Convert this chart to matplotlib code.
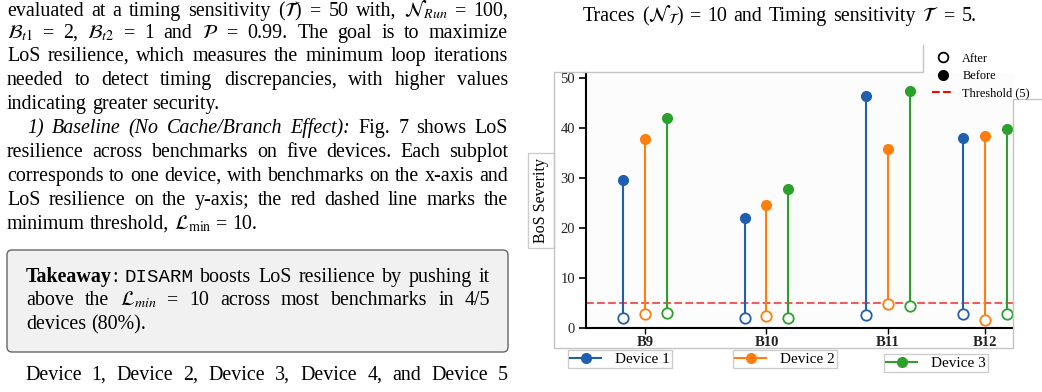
import matplotlib
matplotlib.use("Agg")
import matplotlib.pyplot as plt
from matplotlib.lines import Line2D
from matplotlib.patches import FancyBboxPatch

plt.rcParams['font.family'] = ['Liberation Serif', 'DejaVu Serif']
plt.rcParams['mathtext.fontset'] = 'stix'

# ---- chart data ----
benchmarks = ["B9", "B10", "B11", "B12"]
device_names = ["Device 1", "Device 2", "Device 3"]
device_colors = ["#1f5fae", "#ff7f0e", "#2ca02c"]

d1_before = [29.7, 22.1, 46.5, 38.1]
d1_after = [2.0, 2.0, 2.7, 2.8]
d2_before = [37.8, 24.7, 35.8, 38.5]
d2_after = [2.9, 2.5, 4.9, 1.7]
d3_before = [42.0, 27.9, 47.5, 39.9]
d3_after = [3.0, 2.1, 4.5, 2.9]
threshold = 5

# layout of the categories on the x axis (B12 sits closer in the original)
bench_x = [0, 1, 2, 2.8]
offsets = [-0.18, 0, 0.18]

W, H = 1042, 392
fig = plt.figure(figsize=(W / 100, H / 100), dpi=100)
renderer = fig.canvas.get_renderer()


def fx(x):
    return x / W


def fy(y):
    return 1 - y / H


# ---- page text ----
BASE = dict(fontsize=14.4, color='black')
IT = dict(style='italic')
BF = dict(weight='bold')
TT = dict(family='Liberation Mono', fontsize=13.8)


def words(s, st=None):
    return [[(w, st or {})] for w in s.split()]


def put_line(line_words, y, x0, x1=None, gap=4.8):
    items = []
    widths = []
    for w in line_words:
        pieces = []
        wsum = 0
        for s, st in w:
            t = fig.text(0, fy(y), s, va='baseline', ha='left', **{**BASE, **st})
            wsum += t.get_window_extent(renderer).width
            pieces.append(t)
        items.append(pieces)
        widths.append(wsum)
    if x1 is not None and len(items) > 1:
        gap = (x1 - x0 - sum(widths)) / (len(items) - 1)
    x = x0
    for pieces, wd in zip(items, widths):
        xx = x
        for t in pieces:
            t.set_x(fx(xx))
            xx += t.get_window_extent(renderer).width
        x += wd + gap


R = 508
lines = [
    (16, 7, R, words(r"evaluated at a timing sensitivity ($\mathcal{T}$) = 50 with, $\mathcal{N}_{Run}$ = 100,")),
    (38, 7, R, words(r"$\mathcal{B}_{t1}$ = 2, $\mathcal{B}_{t2}$ = 1 and $\mathcal{P}$ = 0.99. The goal is to maximize")),
    (61, 7, R, words("LoS resilience, which measures the minimum loop iterations")),
    (85, 7, R, words("needed to detect timing discrepancies, with higher values")),
    (109, 7, None, words("indicating greater security.")),
    (133, 27, R, words("1) Baseline (No Cache/Branch Effect):", IT) + words("Fig. 7 shows LoS")),
    (157, 7, R, words("resilience across benchmarks on five devices. Each subplot")),
    (181, 7, R, words("corresponds to one device, with benchmarks on the x-axis and")),
    (205, 7, R, words("LoS resilience on the y-axis; the red dashed line marks the")),
    (229, 7, None, words(r"minimum threshold, $\mathcal{L}_{\min}$ = 10.")),
    (282, 26, 490, [[("Takeaway", BF), (":", {})], [("DISARM", TT)]]
     + words("boosts LoS resilience by pushing it")),
    (305, 26, 490, words(r"above the $\mathcal{L}_{min}$ = 10 across most benchmarks in 4/5")),
    (329, 26, None, words("devices (80%).")),
    (380, 25, R, words("Device 1, Device 2, Device 3, Device 4, and Device 5")),
    # caption of the figure in the right column
    (21, 583, 977, words(r"Traces ($\mathcal{N}_{\mathcal{T}}$) = 10 and Timing sensitivity $\mathcal{T}$ = 5.")),
]

box = FancyBboxPatch((0.07, (H - 352) / 100), 5.01, 1.02,
                     boxstyle="round,pad=0,rounding_size=0.05",
                     transform=fig.dpi_scale_trans, facecolor='#f1f1f1',
                     edgecolor='#666666', lw=1.0, zorder=0)
fig.add_artist(box)

for y, x0, x1, lw_ in lines:
    put_line(lw_, y, x0, x1)

# grey frame of the embedded figure
frame_x = [923, 923, 554, 554, 1013, 1013, 1042]
frame_y = [45, 72, 72, 348, 348, 99, 99]
fig.add_artist(Line2D([fx(v) for v in frame_x], [fy(v) for v in frame_y],
                      color='#c4c4c4', lw=1.0, transform=fig.transFigure))

# ---- the lollipop chart ----
ax = fig.add_axes([fx(586), fy(328), (1013 - 586) / W, (328 - 73) / H])
ax.set_facecolor('#fcfcfc')

befores = [d1_before, d2_before, d3_before]
afters = [d1_after, d2_after, d3_after]
for i in range(3):
    xs = [b + offsets[i] for b in bench_x]
    c = device_colors[i]
    ax.vlines(xs, afters[i], befores[i], color=c, lw=1.5, zorder=2)
    ax.plot(xs, befores[i], 'o', color=c, ms=7, zorder=3)
    ax.plot(xs, afters[i], 'o', mfc='white', mec=c, mew=1.3, ms=7.5, zorder=3)

ax.axhline(threshold, color='#f04a4a', ls='--', lw=1.5, alpha=0.9, zorder=1)

ax.set_xlim(-0.486, 3.03)
ax.set_ylim(0, 51)
ax.set_yticks([0, 10, 20, 30, 40, 50])
ax.set_xticks(bench_x)
ax.set_xticklabels(benchmarks, fontweight='bold', fontsize=10.5, color='#222222')
ax.tick_params(axis='y', labelsize=10.5, length=5, width=1.2, pad=3, labelcolor='#222222')
ax.tick_params(axis='x', length=4, width=1.0, pad=2)
for s in ['top', 'right']:
    ax.spines[s].set_visible(False)
ax.spines['left'].set_linewidth(1.5)
ax.spines['bottom'].set_linewidth(1.5)

ax.set_ylabel("BoS Severity", fontsize=11.5,
              bbox=dict(boxstyle='square,pad=0.3', fc='white', ec='#cccccc', lw=1))
ax.yaxis.set_label_coords(-0.086, 0.5)

# marker-type legend at top right
mk_handles = [
    Line2D([], [], marker='o', ls='none', mfc='white', mec='black', mew=1.3, ms=7),
    Line2D([], [], marker='o', ls='none', color='black', ms=7),
    Line2D([], [], color='red', ls='--', lw=1.5),
]
fig.legend(mk_handles, ["After", "Before", f"Threshold ({threshold})"],
           loc='upper left', bbox_to_anchor=(fx(922), fy(43)), fontsize=8.8,
           frameon=False, handlelength=1.8, labelspacing=0.42, borderpad=0.3,
           handletextpad=0.7)

# separate device legends below
leg_pos = [(568, 350), (733, 350), (884, 354)]
for i in range(3):
    h = Line2D([], [], color=device_colors[i], marker='o', ms=7, lw=1.5)
    fig.legend([h], [device_names[i]], loc='upper left',
               bbox_to_anchor=(fx(leg_pos[i][0]), fy(leg_pos[i][1])),
               fontsize=11, frameon=True, fancybox=False, framealpha=1,
               edgecolor='#cccccc', facecolor='white', handlelength=2.0,
               borderpad=0.15, handletextpad=0.9, borderaxespad=0)

fig.savefig("out.png", dpi=100)
